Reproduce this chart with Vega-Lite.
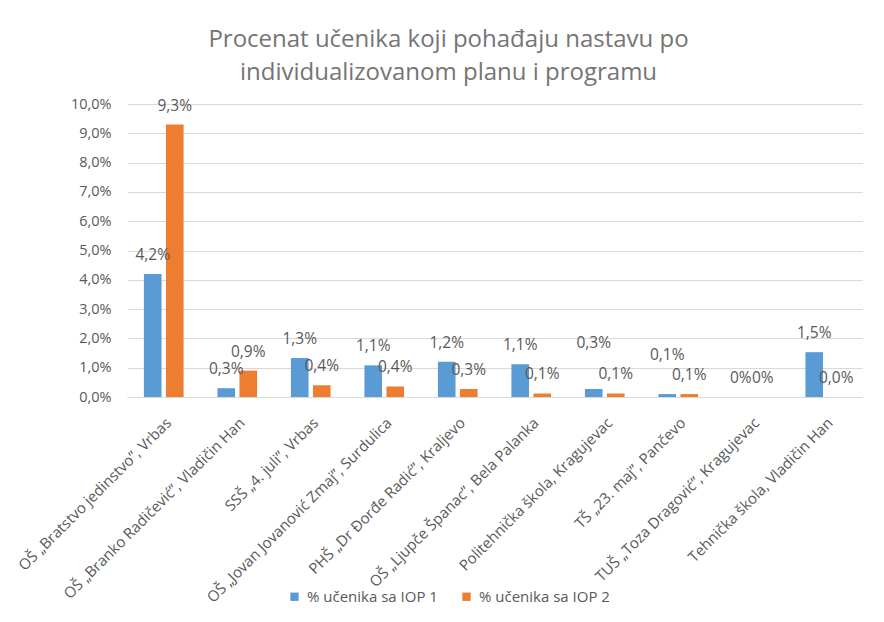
{
  "$schema": "https://vega.github.io/schema/vega-lite/v6.json",
  "width": 735,
  "height": 293,
  "autosize": "none",
  "padding": {"left": 127, "top": 104, "right": 22, "bottom": 225},
  "background": "white",
  "title": {
    "text": ["Procenat učenika koji pohađaju nastavu po", "individualizovanom planu i programu"],
    "anchor": "middle",
    "dx": -46,
    "offset": 11,
    "fontSize": 24,
    "font": "Open Sans",
    "fontWeight": "normal",
    "color": "#757575",
    "lineHeight": 33
  },
  "data": {
    "values": [
      {"skola": "OŠ „Bratstvo jedinstvo”, Vrbas", "serija": "% učenika sa IOP 1", "vrednost": 4.2, "oznaka": "4,2%"},
      {"skola": "OŠ „Bratstvo jedinstvo”, Vrbas", "serija": "% učenika sa IOP 2", "vrednost": 9.3, "oznaka": "9,3%"},
      {"skola": "OŠ „Branko Radičević”, Vladičin Han", "serija": "% učenika sa IOP 1", "vrednost": 0.3, "oznaka": "0,3%"},
      {"skola": "OŠ „Branko Radičević”, Vladičin Han", "serija": "% učenika sa IOP 2", "vrednost": 0.9, "oznaka": "0,9%"},
      {"skola": "SSŠ „4. juli”, Vrbas", "serija": "% učenika sa IOP 1", "vrednost": 1.33, "oznaka": "1,3%"},
      {"skola": "SSŠ „4. juli”, Vrbas", "serija": "% učenika sa IOP 2", "vrednost": 0.4, "oznaka": "0,4%"},
      {"skola": "OŠ „Jovan Jovanović Zmaj”, Surdulica", "serija": "% učenika sa IOP 1", "vrednost": 1.08, "oznaka": "1,1%"},
      {"skola": "OŠ „Jovan Jovanović Zmaj”, Surdulica", "serija": "% učenika sa IOP 2", "vrednost": 0.36, "oznaka": "0,4%"},
      {"skola": "PHŠ „Dr Đorđe Radić”, Kraljevo", "serija": "% učenika sa IOP 1", "vrednost": 1.2, "oznaka": "1,2%"},
      {"skola": "PHŠ „Dr Đorđe Radić”, Kraljevo", "serija": "% učenika sa IOP 2", "vrednost": 0.27, "oznaka": "0,3%"},
      {"skola": "OŠ „Ljupče Španac”, Bela Palanka", "serija": "% učenika sa IOP 1", "vrednost": 1.12, "oznaka": "1,1%"},
      {"skola": "OŠ „Ljupče Španac”, Bela Palanka", "serija": "% učenika sa IOP 2", "vrednost": 0.12, "oznaka": "0,1%"},
      {"skola": "Politehnička škola, Kragujevac", "serija": "% učenika sa IOP 1", "vrednost": 0.27, "oznaka": "0,3%"},
      {"skola": "Politehnička škola, Kragujevac", "serija": "% učenika sa IOP 2", "vrednost": 0.12, "oznaka": "0,1%"},
      {"skola": "TŠ „23. maj”, Pančevo", "serija": "% učenika sa IOP 1", "vrednost": 0.1, "oznaka": "0,1%"},
      {"skola": "TŠ „23. maj”, Pančevo", "serija": "% učenika sa IOP 2", "vrednost": 0.1, "oznaka": "0,1%"},
      {"skola": "TUŠ „Toza Dragović”, Kragujevac", "serija": "% učenika sa IOP 1", "vrednost": 0, "oznaka": "0%"},
      {"skola": "TUŠ „Toza Dragović”, Kragujevac", "serija": "% učenika sa IOP 2", "vrednost": 0, "oznaka": "0%"},
      {"skola": "Tehnička škola, Vladičin Han", "serija": "% učenika sa IOP 1", "vrednost": 1.53, "oznaka": "1,5%"},
      {"skola": "Tehnička škola, Vladičin Han", "serija": "% učenika sa IOP 2", "vrednost": 0.0, "oznaka": "0,0%"}
    ]
  },
  "encoding": {
    "x": {
      "field": "skola", "type": "nominal", "sort": null, "title": null,
      "scale": {"paddingInner": 0.46, "paddingOuter": 0.23},
      "axis": {
        "labelAngle": -45, "labelFont": "Open Sans", "labelFontSize": 15, "labelColor": "#595959",
        "ticks": false, "domainColor": "#d9d9d9", "domainWidth": 1, "labelPadding": 18, "labelLimit": 400
      }
    },
    "xOffset": {"field": "serija", "type": "nominal", "scale": {"paddingInner": 0.2}},
    "y": {
      "field": "vrednost", "type": "quantitative", "title": null,
      "scale": {"domain": [0, 10], "nice": false},
      "axis": {
        "values": [0,1,2,3,4,5,6,7,8,9,10],
        "labelExpr": "replace(format(datum.value, '.1f'), '.', ',') + '%'",
        "labelFont": "Open Sans", "labelFontSize": 14.5, "labelColor": "#595959",
        "ticks": false, "domain": false, "gridColor": "#d9d9d9", "labelPadding": 16
      }
    },
    "color": {
      "field": "serija", "type": "nominal", "title": null,
      "scale": {"range": ["#5b9bd5", "#ed7d31"]},
      "legend": {
        "orient": "none", "direction": "horizontal", "legendX": 160, "legendY": 485,
        "symbolType": "square", "symbolSize": 70, "symbolStrokeWidth": 0,
        "labelFont": "Open Sans", "labelFontSize": 15, "labelColor": "#595959",
        "columnPadding": 21, "labelOffset": 5
      }
    }
  },
  "layer": [
    {"mark": {"type": "bar"}},
    {
      "transform": [{"filter": "!(datum.serija == '% učenika sa IOP 1' && (datum.skola == 'Politehnička škola, Kragujevac' || datum.skola == 'TŠ „23. maj”, Pančevo'))"}],
      "mark": {"type": "text", "baseline": "bottom", "dy": -11, "font": "Open Sans", "fontSize": 15.5, "color": "#595959"},
      "encoding": {"text": {"field": "oznaka"}, "color": {"value": "#595959"}}
    },
    {
      "transform": [{"filter": "datum.serija == '% učenika sa IOP 1' && datum.skola == 'Politehnička škola, Kragujevac'"}],
      "mark": {"type": "text", "baseline": "bottom", "dy": -38, "font": "Open Sans", "fontSize": 15.5, "color": "#595959"},
      "encoding": {"text": {"field": "oznaka"}, "color": {"value": "#595959"}}
    },
    {
      "transform": [{"filter": "datum.serija == '% učenika sa IOP 1' && datum.skola == 'TŠ „23. maj”, Pančevo'"}],
      "mark": {"type": "text", "baseline": "bottom", "dy": -31, "font": "Open Sans", "fontSize": 15.5, "color": "#595959"},
      "encoding": {"text": {"field": "oznaka"}, "color": {"value": "#595959"}}
    }
  ],
  "config": {"view": {"stroke": null}}
}
